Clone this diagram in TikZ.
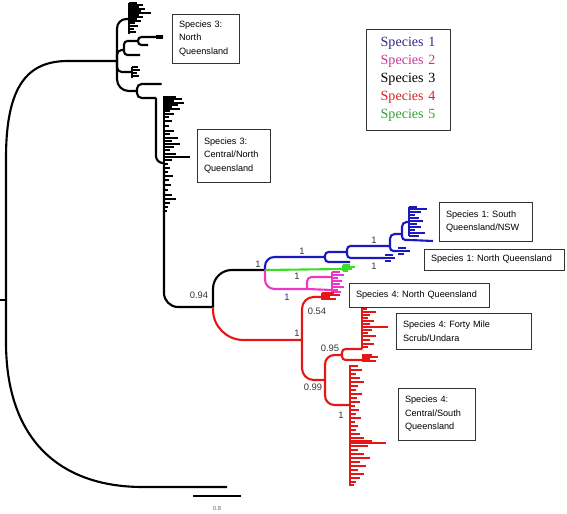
\documentclass[tikz,border=0pt]{standalone}
\usepackage{fontspec}
\setmainfont{Liberation Serif}
\newfontfamily\arialfont{Liberation Sans}
\frenchspacing

\definecolor{sp1}{RGB}{25,25,190}
\definecolor{sp2}{RGB}{235,55,200}
\definecolor{sp4}{RGB}{228,22,22}
\definecolor{sp5}{RGB}{60,220,40}
\definecolor{key1}{RGB}{45,40,140}
\definecolor{key2}{RGB}{205,50,150}
\definecolor{key4}{RGB}{215,35,35}
\definecolor{key5}{RGB}{50,160,50}

\tikzset{
  branch/.style={line width=1.8pt, rounded corners=#1},
  branch/.default=6pt,
  leaf/.style={line width=1.4pt},
  support/.style={font=\arialfont\fontsize{8}{9}\selectfont, text=black!80, inner sep=0pt},
  labelbox/.style={draw=black!80, fill=white, line width=0.6pt,
    font=\arialfont\fontsize{7.8}{11.5}\selectfont, align=left,
    inner xsep=6pt, inner ysep=3pt},
}

\begin{document}
\begin{tikzpicture}[x=0.03cm, y=-0.03cm]
            \useasboundingbox (0,0) rectangle (567,514);

            % Root, long outgroup branch and scale bar
            \coordinate (tick) at (0,300);
            \coordinate (root) at (6,300);
            \coordinate (sp3) at (117,61);
            \coordinate (outg) at (227,487);
            \draw [branch] (tick) -- (root);
            \draw [branch] (root) -- (6,165) .. controls (6,85) and (28,61) .. (75,61) -- (sp3);
            \draw [branch] (root) -- (6,335) .. controls (6,440) and (60,487) .. (150,487) -- (outg);
            \coordinate (barL) at (193,496);
            \coordinate (barR) at (241,496);
            \draw [branch] (barL) -- (barR);
            \node [font=\arialfont\fontsize{5}{6}\selectfont, text=black!60] (barlab) at (217,508) {0.8};

            % Species 3 clade
            \coordinate (top3) at (129,19);
            \coordinate (mid3) at (124,50);
            \coordinate (mid3a) at (138,41);
            \coordinate (q3) at (132,72);
            \coordinate (s3b) at (137,91);
            \coordinate (n3c) at (156,98);
            \coordinate (c3) at (164,163);
            \coordinate (n94) at (213,307);
            \draw [branch=8pt] (sp3) |- (top3);
            \draw [leaf] (129,3) -- (129,34);
            \foreach \y/\l in {3/8, 5/14, 7/10, 9/16, 11/12, 13/22, 15/10, 17/14, 19/8, 21/12, 23/6, 26/9, 29/5, 32/7} {
              \draw [leaf] (129,\y) -- ++(\l,0);
            }
            \draw [branch=4pt] (sp3) |- (mid3);
            \draw [branch=3pt] (mid3) |- (mid3a);
            \draw [branch=3pt] (mid3a) |- (150,37) -- (163,37);
            \draw [line width=3pt] (156,37) -- (163,37);
            \draw [branch=3pt] (mid3a) |- (148,45);
            \draw [branch=3pt] (mid3) |- (134,55) -- ++(6,0);
            \draw [branch=4pt] (sp3) |- (q3);
            \draw [leaf] (132,67) -- (132,78);
            \foreach \y/\l in {67/6, 70/8, 73/5, 76/7} {
              \draw [leaf] (132,\y) -- ++(\l,0);
            }
            \draw [branch=10pt] (sp3) |- (s3b);
            \draw [branch=4pt] (s3b) |- (157,84) -- ++(3,0);
            \draw [branch=4pt] (s3b) |- (n3c);
            \draw [branch=6pt] (n3c) |- (c3);
            \draw [leaf] (164,96) -- (164,212);
            \foreach \y/\l in {97/12, 99/18, 101/10, 103/20, 105/14, 107/8, 109/16, 111/6, 114/10, 117/5,
                               121/8, 126/5, 131/10, 134/6, 138/14, 141/8, 144/16, 147/10, 150/6, 154/12,
                               157/26, 160/8, 164/4, 168/6, 172/4, 176/9, 180/5, 185/7, 190/4, 195/8,
                               199/12, 203/6, 207/4, 211/3} {
              \draw [leaf] (164,\y) -- ++(\l,0);
            }
            \draw [branch=12pt] (c3) |- (n94);

            % Species 1, 2 and 5
            \coordinate (n1) at (265,270);
            \coordinate (b1) at (325,257);
            \coordinate (b2) at (347,252);
            \coordinate (b3) at (390,246);
            \coordinate (b4) at (402,234);
            \coordinate (c1) at (409,222);
            \coordinate (g1) at (343,269);
            \coordinate (p1) at (307,289);
            \draw [branch=16pt] (n94) |- (n1);
            \draw [branch=8pt, sp1] (n1) |- (b1);
            \draw [branch=3pt, sp1] (b1) |- (b2);
            \draw [branch=3pt, sp1] (b1) |- (345,262) -- ++(5,0);
            \draw [branch=3pt, sp1] (b2) |- (b3);
            \draw [branch=3pt, sp1] (b2) |- (385,258);
            \foreach \y/\l in {255/8, 258/10, 261/6} {
              \draw [leaf, sp1] (385,\y) -- ++(\l,0);
            }
            \draw [branch=4pt, sp1] (b3) |- (b4);
            \draw [branch=3pt, sp1] (b3) |- (398,251);
            \foreach \y/\l in {248/8, 251/12, 254/6} {
              \draw [leaf, sp1] (398,\y) -- ++(\l,0);
            }
            \draw [branch=4pt, sp1] (b4) |- (c1);
            \draw [branch=3pt, sp1] (b4) |- (410,240) -- (433,241);
            \draw [leaf, sp1] (409,207) -- (409,236);
            \foreach \y/\l in {207/8, 209/18, 212/12, 215/6, 218/10, 221/14, 224/8, 227/12, 230/6, 233/16, 236/10} {
              \draw [leaf, sp1] (409,\y) -- ++(\l,0);
            }
            \draw [branch, sp5] (n1) -- (g1);
            \draw [leaf, sp5] (343,265) -- (343,271);
            \foreach \y/\l in {265/7, 267/12, 269/9, 271/5} {
              \draw [leaf, sp5] (343,\y) -- ++(\l,0);
            }
            \draw [branch=8pt, sp2] (n1) |- (p1);
            \draw [branch=4pt, sp2] (p1) |- (332,277);
            \draw [branch, sp2] (p1) -- (332,290);
            \draw [leaf, sp2] (332,272) -- (332,292);
            \foreach \y/\l in {272/8, 275/12, 278/6, 281/10, 284/8, 287/12, 290/6, 292/9} {
              \draw [leaf, sp2] (332,\y) -- ++(\l,0);
            }

            % Species 4
            \coordinate (r1) at (302,340);
            \coordinate (r1u) at (322,297);
            \coordinate (r2) at (325,380);
            \coordinate (r3) at (342,355);
            \coordinate (r4) at (350,405);
            \coordinate (c4a) at (362,349);
            \draw [branch=26pt, sp4] (n94) |- (r1);
            \draw [branch=10pt, sp4] (r1) |- (r1u);
            \draw [leaf, sp4] (322,293) -- (322,300);
            \foreach \y/\l in {293/12, 295/18, 297/8, 299/14} {
              \draw [leaf, sp4] (322,\y) -- ++(\l,0);
            }
            \draw [branch=10pt, sp4] (r1) |- (r2);
            \draw [branch=8pt, sp4] (r2) |- (r3);
            \draw [branch=8pt, sp4] (r2) |- (r4);
            \draw [branch=3pt, sp4] (r3) |- (c4a);
            \draw [branch=3pt, sp4] (r3) |- (362,360);
            \foreach \y/\l in {355/10, 357/16, 359/8, 361/14} {
              \draw [leaf, sp4] (362,\y) -- ++(\l,0);
            }
            \draw [leaf, sp4] (362,303) -- (362,349);
            \foreach \y/\l in {303/6, 306/10, 309/5, 312/14, 315/8, 318/6, 321/12, 324/8, 327/26,
                               330/10, 333/6, 336/14, 340/8, 344/12, 347/6} {
              \draw [leaf, sp4] (362,\y) -- ++(\l,0);
            }
            \draw [leaf, sp4] (350,365) -- (350,486);
            \foreach \y/\l in {366/8, 370/12, 374/6, 378/10, 382/14, 386/8, 390/6, 394/12, 398/7, 402/10,
                               406/5, 410/9, 414/6, 418/11, 422/5, 426/8, 430/6, 434/10, 438/14, 441/22,
                               443/36, 446/18, 450/8, 454/14, 458/20, 462/10, 466/16, 470/8, 474/14,
                               478/10, 482/6, 485/4} {
              \draw [leaf, sp4] (350,\y) -- ++(\l,0);
            }

            % Support values
            \foreach \x/\y/\lab [count=\i] in {199/295/0.94, 258/264/1, 302/251/1, 297/276/1,
                                               374/240/1, 374/266/1, 317/311/0.54, 297/333/1,
                                               330/348/0.95, 313/387/0.99, 341/415/1} {
              \node [support] (sup\i) at (\x,\y) {\lab};
            }
            \node [support, text=key1] (sup12) at (287,297) {1};

            % Clade boxes
            \node [labelbox, text width=45.2pt, minimum height=41.8pt] (box3n) at (205.5,38.5) {Species 3:\\North\\Queensland};
            \node [labelbox, text width=50.3pt, minimum height=45.2pt] (box3c) at (233.5,155.5) {Species 3:\\Central/North\\Queensland};
            \node [labelbox, text width=67.4pt, minimum height=33.3pt] (box1s) at (485.5,221.5) {Species 1: South\\Queensland/NSW};
            \node [labelbox, text width=107.5pt, minimum height=17.9pt] (box1n) at (494,259.5) {Species 1: North Queensland};
            \node [labelbox, text width=107.5pt, minimum height=20.5pt] (box4n) at (419,295) {Species 4: North Queensland};
            \node [labelbox, text width=103.2pt, minimum height=30.7pt] (box4f) at (463.5,331) {Species 4: Forty Mile\\Scrub/Undara};
            \node [labelbox, text width=53.7pt, minimum height=44.4pt] (box4c) at (436.5,414) {Species 4:\\Central/South\\Queensland};

            % Legend
            \node [draw=black!80, line width=0.6pt, inner xsep=4pt, text width=63.7pt, minimum height=86pt,
                   align=center, font=\fontsize{12}{15.4}\selectfont] (key) at (408,79.5)
              {\textcolor{key1}{Species 1}\\\textcolor{key2}{Species 2}\\Species 3\\\textcolor{key4}{Species 4}\\\textcolor{key5}{Species 5}};
        \end{tikzpicture}
\end{document}
